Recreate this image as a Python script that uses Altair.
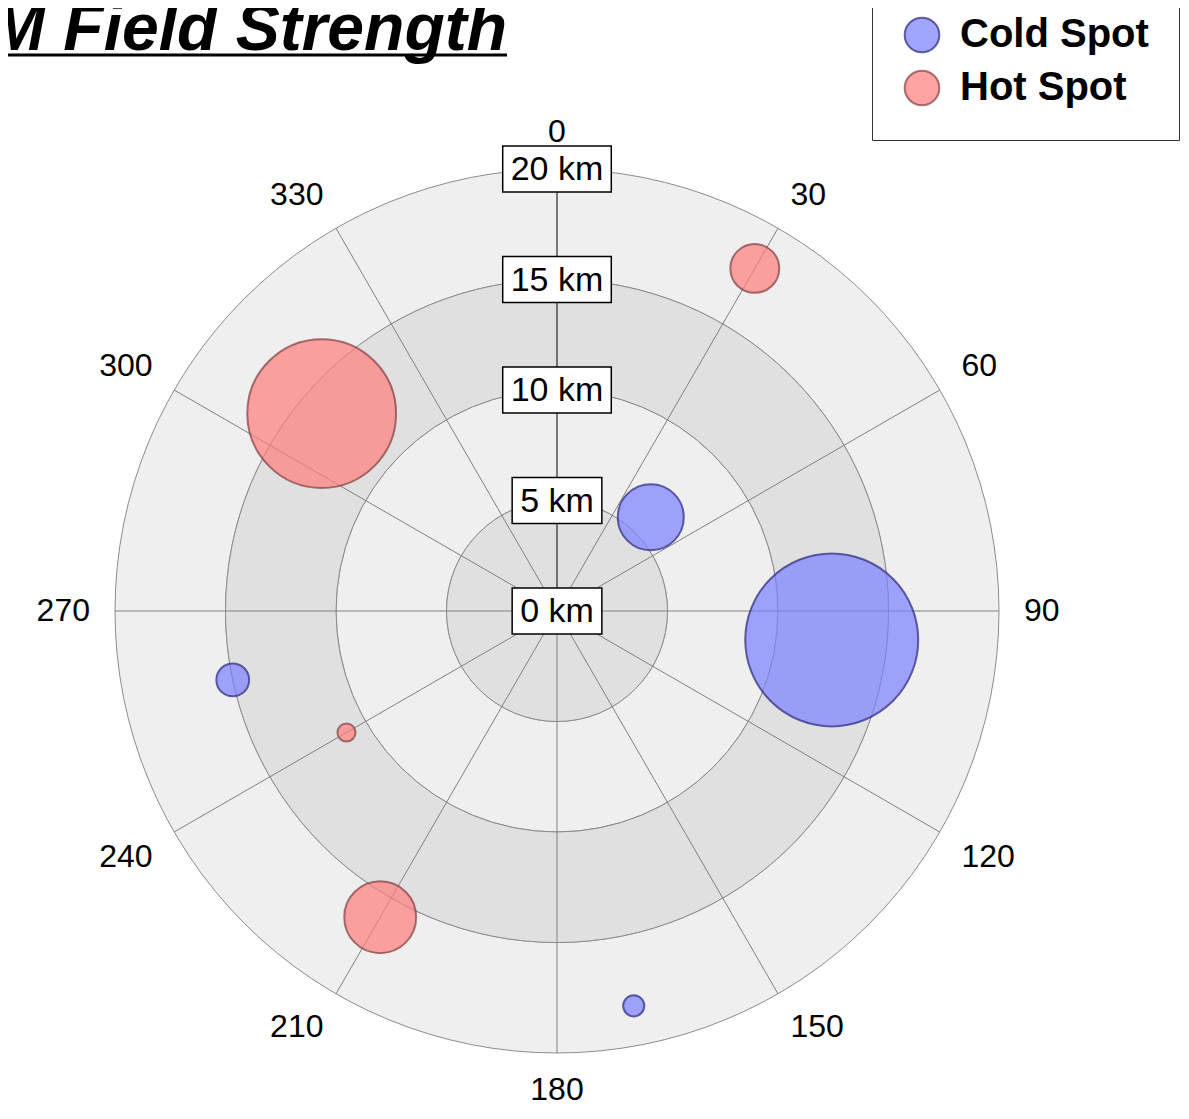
import math
import altair as alt
import pandas as pd

# ---------------- data ----------------
TITLE = ["EM Field Strength"]
KINDS = ["Cold Spot", "Cold Spot", "Cold Spot", "Cold Spot",
         "Hot Spot", "Hot Spot", "Hot Spot", "Hot Spot"]
ANGLES = [45, 96, 258, 169, 30, 310, 240, 210]            # degrees, clockwise from north
DISTANCES = [6.0, 12.5, 15.0, 18.2, 17.9, 13.9, 11.0, 16.0]  # km
STRENGTH = [14.6, 100, 3.6, 1.5, 8.0, 74, 1.1, 17.3]

SPOKE_ANGLES = [0, 30, 60, 90, 120, 150, 180, 210, 240, 270, 300, 330]
ANGLE_LABELS = ["0", "30", "60", "90", "120", "150", "180", "210", "240", "270", "300", "330"]
RING_INNER = [0, 5, 10, 15]
RING_OUTER = [5, 10, 15, 20]
RADIAL_TICKS = [0, 5, 10, 15, 20]
RADIAL_LABELS = ["0 km", "5 km", "10 km", "15 km", "20 km"]

# ---------------- layout ----------------
R_MAX = 20
PLOT = 884
PX = PLOT / 2 / R_MAX          # pixels per km
FONT = "Liberation Sans"

xs = alt.Scale(domain=[-R_MAX, R_MAX], nice=False, zero=False)
ys = alt.Scale(domain=[-R_MAX, R_MAX], nice=False, zero=False)
rs = alt.Scale(type="linear", domain=[0, R_MAX], range=[0, PLOT / 2], zero=True)

bubbles_df = pd.DataFrame({"kind": KINDS, "angle": ANGLES, "dist": DISTANCES, "strength": STRENGTH})
spokes_df = pd.DataFrame({"angle": SPOKE_ANGLES, "label": ANGLE_LABELS})
rings_df = pd.DataFrame({"inner": RING_INNER, "outer": RING_OUTER,
                         "band": list(range(len(RING_INNER)))})
radial_df = pd.DataFrame({"d": RADIAL_TICKS, "label": RADIAL_LABELS})
title_df = pd.DataFrame({"t": TITLE})

# ring bands
def band_layer(parity, color):
    return alt.Chart(rings_df).transform_filter(
        f"datum.band % 2 == {parity}"
    ).mark_arc(theta=0, theta2=2 * math.pi, fill=color, stroke="#8c8c8c", strokeWidth=1).encode(
        radius=alt.Radius("outer:Q", scale=rs),
        radius2="inner:Q",
    )

dark_bands = band_layer(0, "#e0e0e0")
light_bands = band_layer(1, "#efefef")

# spokes
spokes = alt.Chart(spokes_df).transform_calculate(
    x0="0", y0="0",
    x1=f"{R_MAX}*sin(datum.angle*PI/180)",
    y1=f"{R_MAX}*cos(datum.angle*PI/180)",
).mark_rule(strokeWidth=1).encode(
    x=alt.X("x0:Q", scale=xs, axis=None),
    y=alt.Y("y0:Q", scale=ys, axis=None),
    x2="x1:Q", y2="y1:Q",
    color=alt.condition(alt.datum.angle == 0, alt.value("#000000"), alt.value("#808080")),
)

# angle labels: label box corner nearest the centre touches a circle just outside the plot
angle_text = alt.Chart(spokes_df).transform_calculate(
    s="sin(datum.angle*PI/180)",
    c="cos(datum.angle*PI/180)",
    ss="abs(datum.s) < 1e-6 ? 0 : (datum.s > 0 ? 1 : -1)",
    sc="abs(datum.c) < 1e-6 ? 0 : (datum.c > 0 ? 1 : -1)",
    w="length(datum.label)*0.556*32",
    lx=f"(467*datum.s + datum.ss*datum.w/2)/{PX}",
    ly=f"(467*datum.c + datum.sc*12)/{PX}",
).mark_text(font=FONT, fontSize=32, color="#000000", align="center", baseline="middle").encode(
    x=alt.X("lx:Q", scale=xs, axis=None),
    y=alt.Y("ly:Q", scale=ys, axis=None),
    text="label:N",
)

# bubbles (Vega circle: radius = sqrt(size)/2)
legend_cfg = dict(
    title=None, orient="none", legendX=757, legendY=-184, padding=30,
    strokeColor="#333333", fillColor="white", cornerRadius=0,
    labelFont=FONT, labelFontSize=40, labelFontWeight="bold", labelColor="#000000",
    labelLimit=600, symbolType="circle", symbolSize=1200, symbolStrokeWidth=2,
    labelOffset=18, rowPadding=9,
)
kind_dom = ["Cold Spot", "Hot Spot"]
bubbles = alt.Chart(bubbles_df).transform_calculate(
    px="datum.dist*sin(datum.angle*PI/180)",
    py="datum.dist*cos(datum.angle*PI/180)",
).mark_circle(opacity=1, strokeWidth=2).encode(
    x=alt.X("px:Q", scale=xs, axis=None),
    y=alt.Y("py:Q", scale=ys, axis=None),
    size=alt.Size("strength:Q", scale=alt.Scale(domain=[0, 100], range=[0, 29929]), legend=None),
    fill=alt.Fill("kind:N", scale=alt.Scale(domain=kind_dom,
                  range=["rgba(126,130,255,0.72)", "rgba(255,126,126,0.72)"]),
                  legend=alt.Legend(**legend_cfg)),
    stroke=alt.Stroke("kind:N", scale=alt.Scale(domain=kind_dom,
                      range=["rgba(50,50,130,0.75)", "rgba(120,50,50,0.65)"]),
                      legend=alt.Legend(**legend_cfg)),
)

# radial labels with boxes
radial_boxes = alt.Chart(radial_df).transform_calculate(
    hw=f"(((length(datum.label)-3)*0.556+1.611)*34/2+8)/{PX}",
    hh=f"23/{PX}",
    bx1="-datum.hw", bx2="datum.hw",
    by1="datum.d-datum.hh", by2="datum.d+datum.hh",
).mark_rect(fill="white", stroke="#000000", strokeWidth=1.5).encode(
    x=alt.X("bx1:Q", scale=xs, axis=None), x2="bx2:Q",
    y=alt.Y("by1:Q", scale=ys, axis=None), y2="by2:Q",
)
radial_text = alt.Chart(radial_df).transform_calculate(zero="0").mark_text(
    font=FONT, fontSize=34, color="#000000", align="center", baseline="middle", dy=1
).encode(
    x=alt.X("zero:Q", scale=xs, axis=None),
    y=alt.Y("d:Q", scale=ys, axis=None),
    text="label:N",
)

# title (partly outside the visible page on the left, as in the reference)
title = alt.Chart(title_df).mark_text(
    font=FONT, fontSize=66, fontWeight="bold", fontStyle="italic",
    align="left", baseline="alphabetic", color="#000000"
).encode(x=alt.value(-169), y=alt.value(-119), text="t:N")
underline = alt.Chart(title_df).mark_rule(color="#000000", strokeWidth=3).encode(
    x=alt.value(-200), x2=alt.value(392), y=alt.value(-114)
)

chart = alt.layer(
    light_bands, dark_bands, spokes, angle_text, bubbles, radial_boxes, radial_text, title, underline
).properties(
    width=PLOT, height=PLOT,
    autosize=alt.AutoSizeParams(type="none"),
    padding={"left": 107, "top": 161, "right": 182, "bottom": 55},
    background="white",
).configure_view(stroke=None)

chart.save("out.html", embed_options={"renderer": "svg", "actions": False})
